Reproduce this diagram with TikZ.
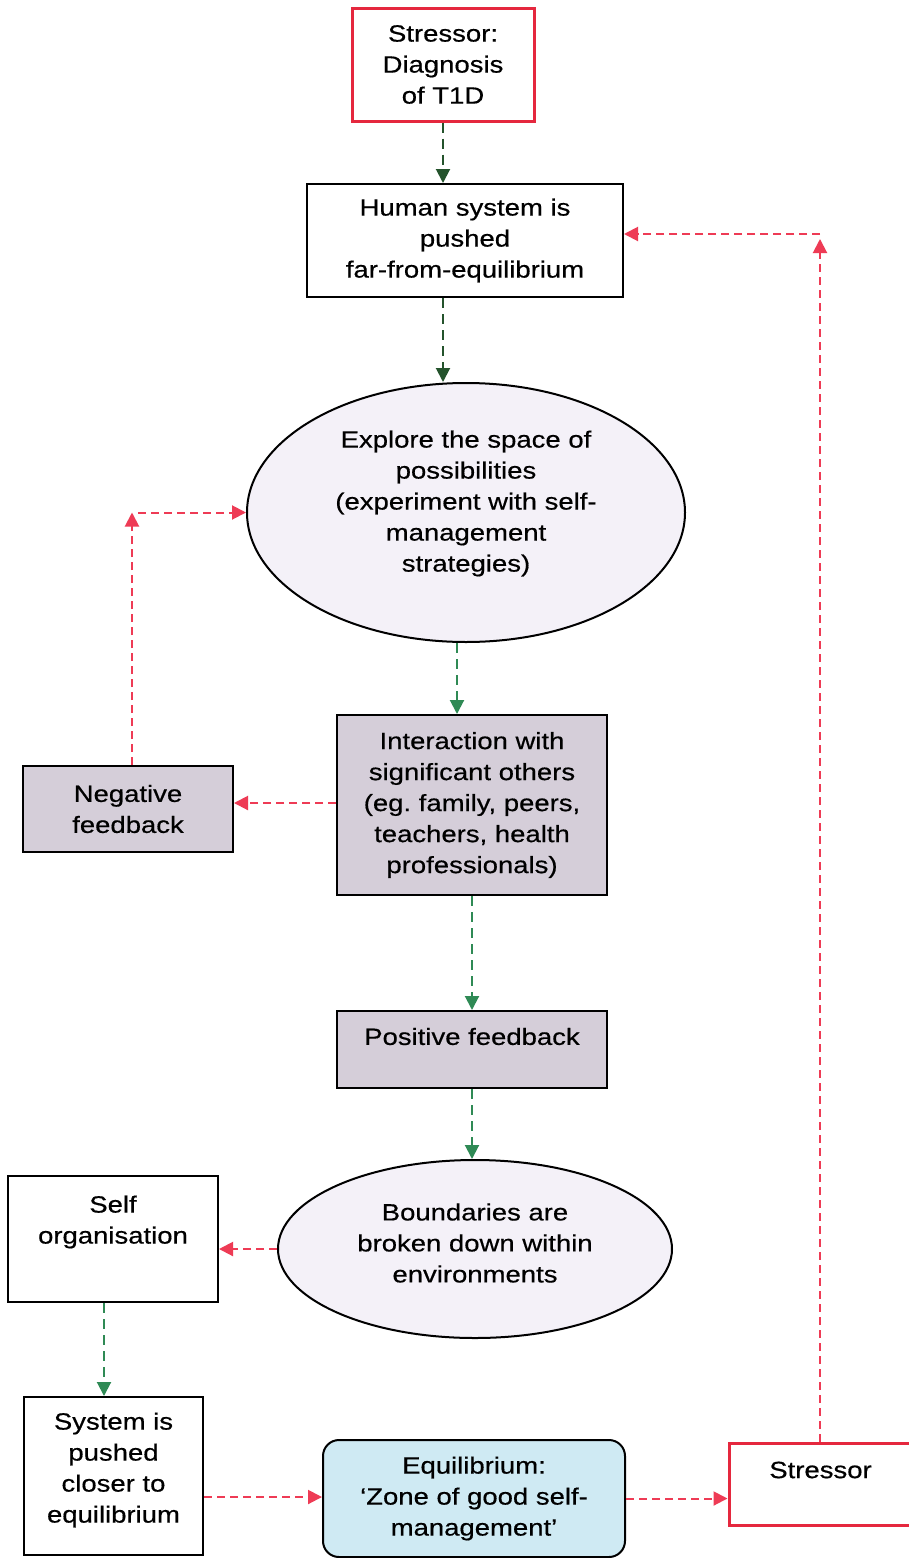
\documentclass[tikz,border=0pt]{standalone}
\usepackage{fontspec}
\setmainfont{Liberation Sans}[FakeStretch=1.17,FakeBold=0.5]
\usetikzlibrary{arrows.meta,shapes.geometric}

\definecolor{stressred}{HTML}{E5283E}
\definecolor{linkred}{HTML}{EE3B55}
\definecolor{darkgreen}{HTML}{24532C}
\definecolor{midgreen}{HTML}{2F8A55}
\definecolor{greyfill}{HTML}{D5CED9}
\definecolor{lavfill}{HTML}{F4F1F8}
\definecolor{eqfill}{HTML}{CFEAF3}

\begin{document}
\begin{tikzpicture}[x=1pt,y=-1pt,
  every node/.style={font=\fontsize{23.5pt}{31pt}\selectfont, align=center,
    inner sep=0pt, line width=2pt},
  plainbox/.style={draw=black, fill=white},
  redbox/.style={draw=stressred, fill=white, line width=3pt},
  greybox/.style={draw=black, fill=greyfill},
  oval/.style={draw=black, fill=lavfill, ellipse},
  roundbox/.style={draw=black, fill=eqfill, rounded corners=16pt},
  tip/.style={-{Triangle[length=14pt,width=14pt]}},
  redlink/.style={draw=linkred, line width=2pt, dash pattern=on 8pt off 5pt, tip},
  darklink/.style={draw=darkgreen, line width=2pt, dash pattern=on 10pt off 6pt, tip},
  greenlink/.style={draw=midgreen, line width=2pt, dash pattern=on 10pt off 6pt, tip}
]
\useasboundingbox (0,0) rectangle (908,1558);
\fill[white] (0,0) rectangle (908,1558);

% main column
\node[redbox, minimum width=182pt, minimum height=113pt] (t1d) at (443,64.5)
  {Stressor:\\Diagnosis\\of T1D};
\node[plainbox, minimum width=316pt, minimum height=113pt] (human) at (465,240.5)
  {Human system is\\pushed\\far-from-equilibrium};
\node[oval, minimum width=438pt, minimum height=259pt,
  label={[yshift=9pt]center:{Explore the space of\\possibilities\\(experiment with self-\\management\\strategies)}}]
  (explore) at (466,512.5) {};
\node[greybox, minimum width=270pt, minimum height=180pt] (interaction) at (472,805)
  {Interaction with\\significant others\\(eg.\ family, peers,\\teachers, health\\professionals)};
\node[greybox, minimum width=210pt, minimum height=86pt] (negative) at (128,809)
  {Negative\\feedback};
\node[greybox, minimum width=270pt, minimum height=77pt,
  label={[yshift=13pt]center:Positive feedback}] (positive) at (472,1049.5) {};
\node[oval, minimum width=394pt, minimum height=178pt,
  label={[yshift=6pt]center:{Boundaries are\\broken down within\\environments}}]
  (bounds) at (475,1249) {};

% lower row
\node[plainbox, minimum width=210pt, minimum height=126pt,
  label={[yshift=17pt]center:{Self\\organisation}}] (selforg) at (113,1239) {};
\node[plainbox, minimum width=179pt, minimum height=158pt,
  label={[yshift=6pt]center:{System is\\pushed\\closer to\\equilibrium}}] (system) at (113.5,1476) {};
\node[roundbox, minimum width=302pt, minimum height=117pt] (equil) at (474,1498.5)
  {Equilibrium:\\`Zone of good self-\\management'};
\node[redbox, minimum width=183pt, minimum height=82pt,
  label={[yshift=14pt]center:Stressor}] (stressor) at (820.5,1484) {};

% corners of the two feedback loops
\coordinate (negcorner) at (132,512.5);
\coordinate (stresscorner) at (820,234);

% forward path
\draw[darklink] (t1d.south) -- (t1d.south |- human.north);
\draw[darklink] ([xshift=-22pt]human.south) -- ([xshift=-23pt]explore.north);
\draw[greenlink] ([xshift=-9pt]explore.south) -- ([xshift=-15pt]interaction.north);
\draw[greenlink] (interaction.south) -- (positive.north);
\draw[greenlink] (positive.south) -- (positive.south |- bounds.north);
\draw[greenlink] ([xshift=-9pt]selforg.south) -- ([xshift=-9pt]selforg.south |- system.north);

% red links
\draw[redlink] ([yshift=2pt]interaction.west) -- ([yshift=2pt]interaction.west -| negative.east);
\draw[redlink] ([xshift=4pt]negative.north) -- (negcorner);
\draw[redlink] ([xshift=6pt]negcorner) -- (explore.west);
\draw[redlink] (bounds.west) -- (bounds.west -| selforg.east);
\draw[redlink] ([yshift=-21pt]system.east) -- ([yshift=-21pt]system.east -| equil.west);
\draw[redlink] (equil.east) -- (equil.east -| stressor.west);
\draw[redlink] ([xshift=-0.5pt]stressor.north) -- ([yshift=-5pt]stresscorner);
\draw[redlink] (stresscorner) -- (stresscorner -| human.east);
\end{tikzpicture}
\end{document}
